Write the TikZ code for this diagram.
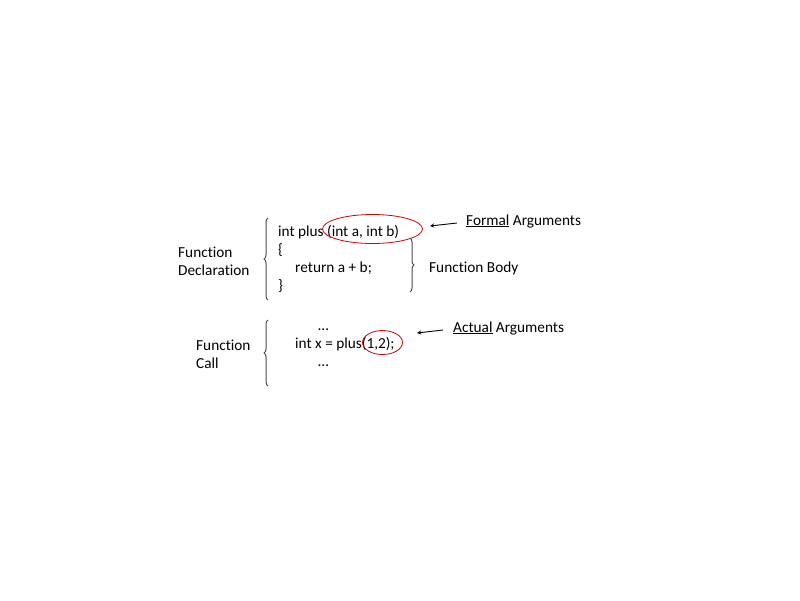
\documentclass[tikz,border=0pt]{standalone}
\usepackage{fontspec}
\setmainfont{Carlito}[Ligatures=NoCommon]
\usetikzlibrary{shapes.geometric,decorations.pathreplacing}

\tikzset{
  txt/.style={anchor=base west,inner sep=0pt},
  circ/.style={draw=red!85!black,ellipse,inner sep=0pt,line width=0.8pt},
  curly/.style={decorate,decoration={brace,amplitude=4pt},draw=black!70,line width=1pt},
}

\begin{document}
\begin{tikzpicture}[x=1pt,y=-1pt,font=\fontsize{15.3}{18}\selectfont]
\useasboundingbox (0,0) rectangle (800,600);

% declaration
\node[txt] (decl1) at (178,257) {Function};
\node[txt] (decl2) at (178,275) {Declaration};
\node[txt] (head) at (278,236) {int plus (int a, int b)};
\node[txt] (open) at (278,254) {\{};
\node[txt] (ret) at (295,272) {return a + b;};
\node[txt] (close) at (278,290) {\}};
\node[circ,minimum width=100pt,minimum height=29pt] (formalring) at (372.5,229) {};
\node[txt] (body) at (429,272) {Function Body};
\node[txt] (formal) at (466,225) {\underline{Formal} Arguments};

\draw[curly] (268,300) -- (268,218);
\draw[curly] (410,238) -- (410,292);

% call
\node[txt] (call1) at (196,350) {Function};
\node[txt] (call2) at (196,368) {Call};
\node[txt] (dots1) at (318,330) {…};
\node[txt] (callx) at (295,348) {int x = plus(1,2);};
\node[txt] (dots2) at (318,366) {…};
\node[circ,minimum width=40pt,minimum height=24pt] (actualring) at (382.5,342.5) {};
\node[txt] (actual) at (453,332) {\underline{Actual} Arguments};

\draw[curly] (268,386) -- (268,320);

\begin{scope}[-stealth,line width=0.9pt]
  \coordinate (formaltip) at (430,226);
  \coordinate (actualtip) at (417,333);
  \draw ([xshift=-9pt,yshift=-2pt]formal.west) -- (formaltip);
  \draw ([xshift=-10pt,yshift=-2pt]actual.west) -- (actualtip);
\end{scope}
\end{tikzpicture}
\end{document}
